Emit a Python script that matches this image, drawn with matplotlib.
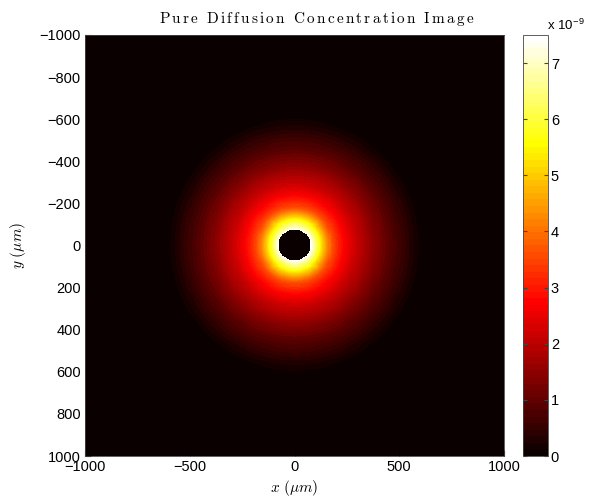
import numpy as np
import matplotlib
matplotlib.use('Agg')
import matplotlib.pyplot as plt
from matplotlib.colors import ListedColormap

plt.rcParams['font.family'] = ['Liberation Sans', 'DejaVu Sans']
plt.rcParams['mathtext.fontset'] = 'cm'

# radial concentration profile around the source (radius in um, conc in 1e-9)
radius_um = [75, 90, 110, 136, 160, 180, 210, 240, 300, 350, 400, 450, 500, 550, 600, 620]
conc_e9 = [7.5, 6.8, 6.0, 5.0, 4.2, 3.6, 3.1, 2.7, 2.1, 1.7, 1.3, 0.95, 0.65, 0.35, 0.1, 0.0]
hole_radius_um = 75

x_ticks = [-1000, -500, 0, 500, 1000]
y_ticks = [-1000, -800, -600, -400, -200, 0, 200, 400, 600, 800, 1000]
cbar_ticks = [0, 1, 2, 3, 4, 5, 6, 7]
title = 'Pure Diffusion Concentration Image'

# 5 um sampling grid
coords = np.arange(-1000, 1001, 5)
X, Y = np.meshgrid(coords, coords)
R = np.hypot(X, Y)
C = np.interp(R, radius_um, conc_e9, left=0.0, right=0.0)
C[R < hole_radius_um] = 0.0

# MATLAB-style hot(64)
m, n = 64, 24
red = np.concatenate([np.arange(1, n + 1) / n, np.ones(m - n)])
green = np.concatenate([np.zeros(n), np.arange(1, n + 1) / n, np.ones(m - 2 * n)])
blue = np.concatenate([np.zeros(2 * n), np.arange(1, m - 2 * n + 1) / (m - 2 * n)])
hot64 = ListedColormap(np.column_stack([red, green, blue]))


def minus(v):
    return str(v).replace('-', '\u2212')


def spaced_tex(s):
    # latex-style title with slightly open letter spacing
    words = [r'\,'.join(w) for w in s.split(' ')]
    return r'$\mathrm{' + r'\ \,\,'.join(words) + '}$'


fig = plt.figure(figsize=(5.95, 4.98), dpi=100)
ax = fig.add_axes([85 / 595, 42 / 498, 419 / 595, 421 / 498])
im = ax.imshow(C, cmap=hot64, extent=[-1000, 1000, 1000, -1000],
               aspect='auto', interpolation='nearest', vmin=0, vmax=C.max())
ax.set_xticks(x_ticks)
ax.set_yticks(y_ticks)
ax.set_xticklabels([minus(v) for v in x_ticks], fontsize=10.5)
ax.set_yticklabels([minus(v) for v in y_ticks], fontsize=10.5)
ax.tick_params(direction='in', length=4, color='black', pad=3)
for s in ax.spines.values():
    s.set_linewidth(0.6)
    s.set_color('#444444')

ax.set_xlabel(r'$x\ (\mu m)$', fontsize=11, labelpad=3)
ax.set_ylabel(r'$y\ (\mu m)$', fontsize=11, labelpad=8)

# title centred over image + colorbar
fig.text(316.5 / 595, 1 - 22.5 / 498, spaced_tex(title), fontsize=11,
         ha='center', va='baseline')

cax = fig.add_axes([523 / 595, 42 / 498, 25 / 595, 421 / 498])
cb = fig.colorbar(im, cax=cax, ticks=cbar_ticks)
cb.set_ticklabels([str(t) for t in cbar_ticks])
cb.ax.tick_params(direction='in', length=3, left=True, right=True,
                  color='#444444', labelsize=10.5, pad=2)
cb.outline.set_linewidth(0.6)
cb.outline.set_edgecolor('#444444')
fig.text(547 / 595, 1 - 30 / 498, r'x 10$^{\mathregular{-9}}$', fontsize=9.5,
         ha='left', va='baseline')

fig.savefig('out.png', dpi=100)
